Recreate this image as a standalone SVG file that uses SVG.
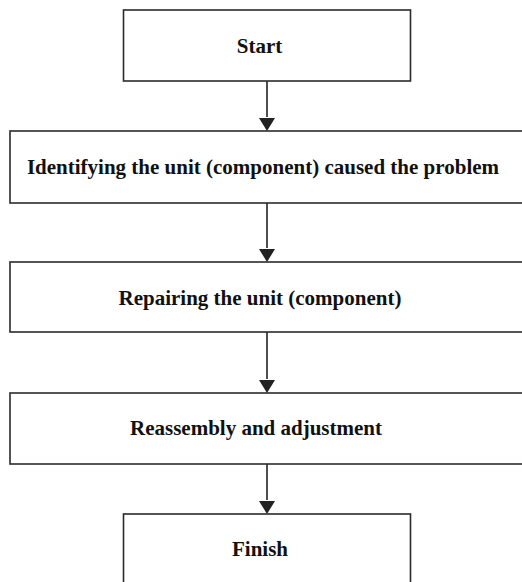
<svg xmlns="http://www.w3.org/2000/svg" width="522" height="582" viewBox="0 0 522 582">
<style>
.box{fill:#fff;stroke:#2b2b2b;stroke-width:1.6}
.lbl{font-family:"Liberation Serif","Times New Roman",serif;font-weight:bold;font-size:21px;fill:#111;text-anchor:middle}
.conn{stroke:#222;stroke-width:1.6;fill:none}
.head{fill:#222}
</style>
<rect width="522" height="582" fill="#fff"/>
<g id="connectors">
<line class="conn" x1="267" y1="81" x2="267" y2="117"/>
<path class="head" d="M259,118 L275,118 L267,131 Z"/>
<line class="conn" x1="267" y1="203" x2="267" y2="248"/>
<path class="head" d="M259,249 L275,249 L267,262 Z"/>
<line class="conn" x1="267" y1="332" x2="267" y2="379"/>
<path class="head" d="M259,380 L275,380 L267,393 Z"/>
<line class="conn" x1="267" y1="464" x2="267" y2="500"/>
<path class="head" d="M259,501 L275,501 L267,514 Z"/>
</g>
<g id="start">
<rect class="box" x="123.5" y="10" width="287" height="71"/>
<text class="lbl" x="259.5" y="53">Start</text>
</g>
<g id="identify">
<rect class="box" x="10" y="131" width="516" height="72"/>
<text class="lbl" x="263" y="174">Identifying the unit (component) caused the problem</text>
</g>
<g id="repair">
<rect class="box" x="10" y="262" width="516" height="70"/>
<text class="lbl" x="260" y="305">Repairing the unit (component)</text>
</g>
<g id="reassembly">
<rect class="box" x="10" y="393" width="516" height="71"/>
<text class="lbl" x="256" y="435">Reassembly and adjustment</text>
</g>
<g id="finish">
<rect class="box" x="123.5" y="514" width="287" height="72"/>
<text class="lbl" x="260" y="556">Finish</text>
</g>
</svg>
